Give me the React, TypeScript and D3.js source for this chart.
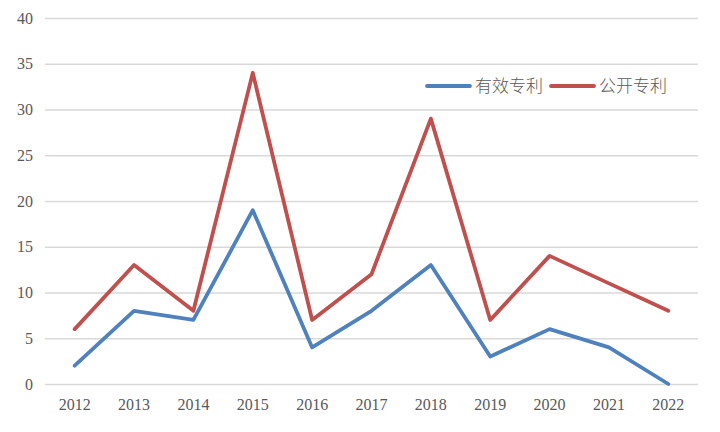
import { useRef, useEffect } from 'react'
import * as d3 from 'd3'

const YEARS = ['2012', '2013', '2014', '2015', '2016', '2017', '2018', '2019', '2020', '2021', '2022']
const VALID = [2, 8, 7, 19, 4, 8, 13, 3, 6, 4, 0]
const PUBLIC = [6, 13, 8, 34, 7, 12, 29, 7, 14, 11, 8]
const Y_TICKS = [0, 5, 10, 15, 20, 25, 30, 35, 40]
const SERIES = [
  { name: '有效专利', values: VALID, color: '#4F81BD' },
  { name: '公开专利', values: PUBLIC, color: '#C0504D' },
]

const W = 720
const H = 432
const MARGIN = { top: 18, right: 22, bottom: 48, left: 45 }
const SERIF = "'Liberation Serif', 'Times New Roman', serif"

export default function App() {
  const svgRef = useRef<SVGSVGElement>(null)

  useEffect(() => {
    if (!svgRef.current) return
    const el = d3.select(svgRef.current)
    el.selectAll('*').remove()

    const innerW = W - MARGIN.left - MARGIN.right
    const innerH = H - MARGIN.top - MARGIN.bottom
    const svg = el.append('g').attr('transform', `translate(${MARGIN.left},${MARGIN.top})`)

    const x = d3.scaleBand().domain(YEARS).range([0, innerW])
    const y = d3.scaleLinear().domain([0, 40]).range([innerH, 0])
    const cx = (d: string) => (x(d) ?? 0) + x.bandwidth() / 2

    // Gridlines
    svg.append('g')
      .call(d3.axisLeft(y).tickValues(Y_TICKS).tickSize(-innerW).tickFormat(() => ''))
      .call((g) => {
        g.select('.domain').remove()
        g.selectAll('line').attr('stroke', '#D9D9D9').attr('stroke-width', 1.3)
      })

    // Y axis labels
    svg.append('g')
      .call(d3.axisLeft(y).tickValues(Y_TICKS).tickSize(0).tickPadding(12))
      .attr('font-family', null)
      .attr('font-size', null)
      .call((g) => {
        g.select('.domain').remove()
        g.selectAll('text')
          .attr('fill', '#595959')
          .style('font-size', '16px')
          .style('font-family', SERIF)
      })

    // X axis labels
    svg.append('g')
      .attr('transform', `translate(0,${innerH})`)
      .call(d3.axisBottom(x).tickSize(0).tickPadding(15))
      .attr('font-family', null)
      .attr('font-size', null)
      .call((g) => {
        g.select('.domain').remove()
        g.selectAll('text')
          .attr('fill', '#595959')
          .style('font-size', '16px')
          .style('font-family', SERIF)
      })

    // Lines
    const line = d3.line<number>()
      .x((_, i) => cx(YEARS[i]))
      .y((d) => y(d))

    SERIES.forEach((s) => {
      svg.append('path')
        .datum(s.values)
        .attr('fill', 'none')
        .attr('stroke', s.color)
        .attr('stroke-width', 3.8)
        .attr('stroke-linejoin', 'round')
        .attr('stroke-linecap', 'round')
        .attr('d', line)
    })

    // Legend
    const legend = el.append('g').attr('transform', 'translate(427,86)')
    let offset = 0
    SERIES.forEach((s) => {
      const item = legend.append('g').attr('transform', `translate(${offset},0)`)
      item.append('line')
        .attr('x1', 0).attr('x2', 43).attr('y1', 0).attr('y2', 0)
        .attr('stroke', s.color).attr('stroke-width', 3.8).attr('stroke-linecap', 'round')
      item.append('text')
        .attr('x', 48).attr('y', 0).attr('dy', '0.35em')
        .attr('fill', '#595959')
        .style('font-size', '17px')
        .style('font-family', "'Noto Sans CJK SC', sans-serif")
        .style('font-weight', 300)
        .text(s.name)
      offset += 124
    })
  }, [])

  return (
    <svg
      ref={svgRef}
      width={W}
      height={H}
      style={{ position: 'absolute', left: 0, top: 0, background: '#fff' }}
    />
  )
}
